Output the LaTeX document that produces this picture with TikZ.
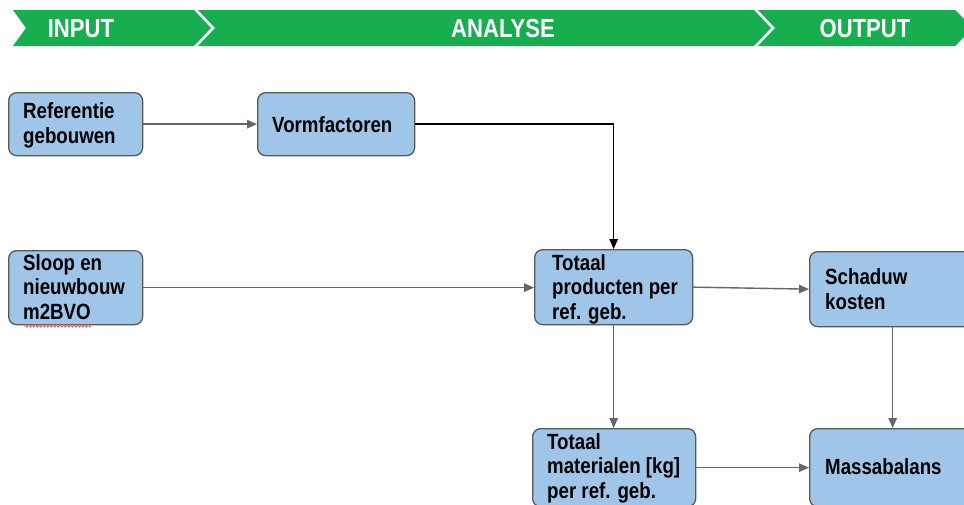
\documentclass[tikz,border=0pt]{standalone}
\usepackage{fontspec}
\setmainfont[FakeStretch=0.85,
  UprightFont={Liberation Sans},
  BoldFont={Liberation Sans Bold}]{Liberation Sans}
\usetikzlibrary{arrows.meta,decorations.pathmorphing}
\definecolor{bannergreen}{HTML}{17AE4F}
\definecolor{boxblue}{HTML}{9FC5E8}
\definecolor{boxline}{HTML}{595959}
\definecolor{flowgray}{HTML}{666666}
\definecolor{spellred}{HTML}{E86A66}

\tikzset{
  stage/.style={fill=bannergreen, draw=none},
  stagelabel/.style={text=white, font=\fontsize{26}{28}\selectfont\bfseries, anchor=base, inner sep=0pt},
  block/.style={draw=boxline, fill=boxblue, line width=1.3pt, rounded corners=8pt,
                anchor=north west, inner sep=0pt},
  blocktext/.style={font=\fontsize{22}{24.5}\selectfont\bfseries, align=left,
                    anchor=base west, inner sep=0pt},
  flow/.style={draw=flowgray, line width=1.4pt, -{Triangle[length=10pt,width=8.5pt]}},
  mainflow/.style={draw=black, line width=1.4pt, -{Triangle[length=10pt,width=8.5pt]}},
}

\begin{document}
\begin{tikzpicture}[x=1pt,y=-1pt]
  \useasboundingbox (0,0) rectangle (964,504);
  \clip (0,0) rectangle (964,504);

  % process stages banner
  \fill[stage] (13,10) -- (194,10) -- (211,28) -- (194,46) -- (13,46) -- (26,28) -- cycle;
  \fill[stage] (198,10) -- (754,10) -- (771,28) -- (754,46) -- (198,46) -- (215,28) -- cycle;
  \fill[stage] (758,10) -- (955,10) -- (973,28) -- (955,46) -- (758,46) -- (775,28) -- cycle;
  \node[stagelabel] (lin)  at (81,37)  {INPUT};
  \node[stagelabel] (lan)  at (503,37) {ANALYSE};
  \node[stagelabel] (lout) at (865,37) {OUTPUT};

  % blocks
  \node[block, minimum width=134pt, minimum height=63pt] (ref)   at (8,92)    {};
  \node[block, minimum width=157pt, minimum height=63pt] (vorm)  at (257,92)  {};
  \node[block, minimum width=134pt, minimum height=74pt] (sloop) at (8,250)   {};
  \node[block, minimum width=158pt, minimum height=75pt] (prod)  at (534,249) {};
  \node[block, minimum width=166pt, minimum height=75pt] (schad) at (809,251) {};
  \node[block, minimum width=163pt, minimum height=78pt] (mat)   at (532,428) {};
  \node[block, minimum width=166pt, minimum height=78pt] (mass)  at (809,428) {};

  % block texts (placed by the baseline of their last line)
  \node[blocktext] (tref)   at (23,143)  {Referentie\\gebouwen};
  \node[blocktext] (tvorm)  at (272,132) {Vormfactoren};
  \node[blocktext] (tsloop) at (23,319)  {Sloop en\\nieuwbouw\\m2BVO};
  \node[blocktext] (tprod)  at (552,319) {Totaal\\producten per\\ref. geb.};
  \node[blocktext] (tschad) at (825,309) {Schaduw\\kosten};
  \node[blocktext] (tmat)   at (547,498) {Totaal\\materialen [kg]\\per ref. geb.};
  \node[blocktext] (tmass)  at (825,474) {Massabalans};

  % spelling underline
  \draw[spellred, line width=1pt, decorate,
        decoration={snake, amplitude=1.1pt, segment length=3.5pt}] (24,326) -- (91,326);

  % connectors
  \draw[flow] (ref.east) -- (vorm.west);
  \draw[mainflow] (vorm.east) -| (prod.north);
  \draw[flow] (sloop.east) -- (sloop.east -| prod.west);
  \draw[flow] (prod.east) -- (schad.west);
  \draw[flow] (prod.south) -- (prod.south |- mat.north);
  \draw[flow] (schad.south) -- (mass.north);
  \draw[flow] (mat.east) -- (mass.west);
\end{tikzpicture}
\end{document}
